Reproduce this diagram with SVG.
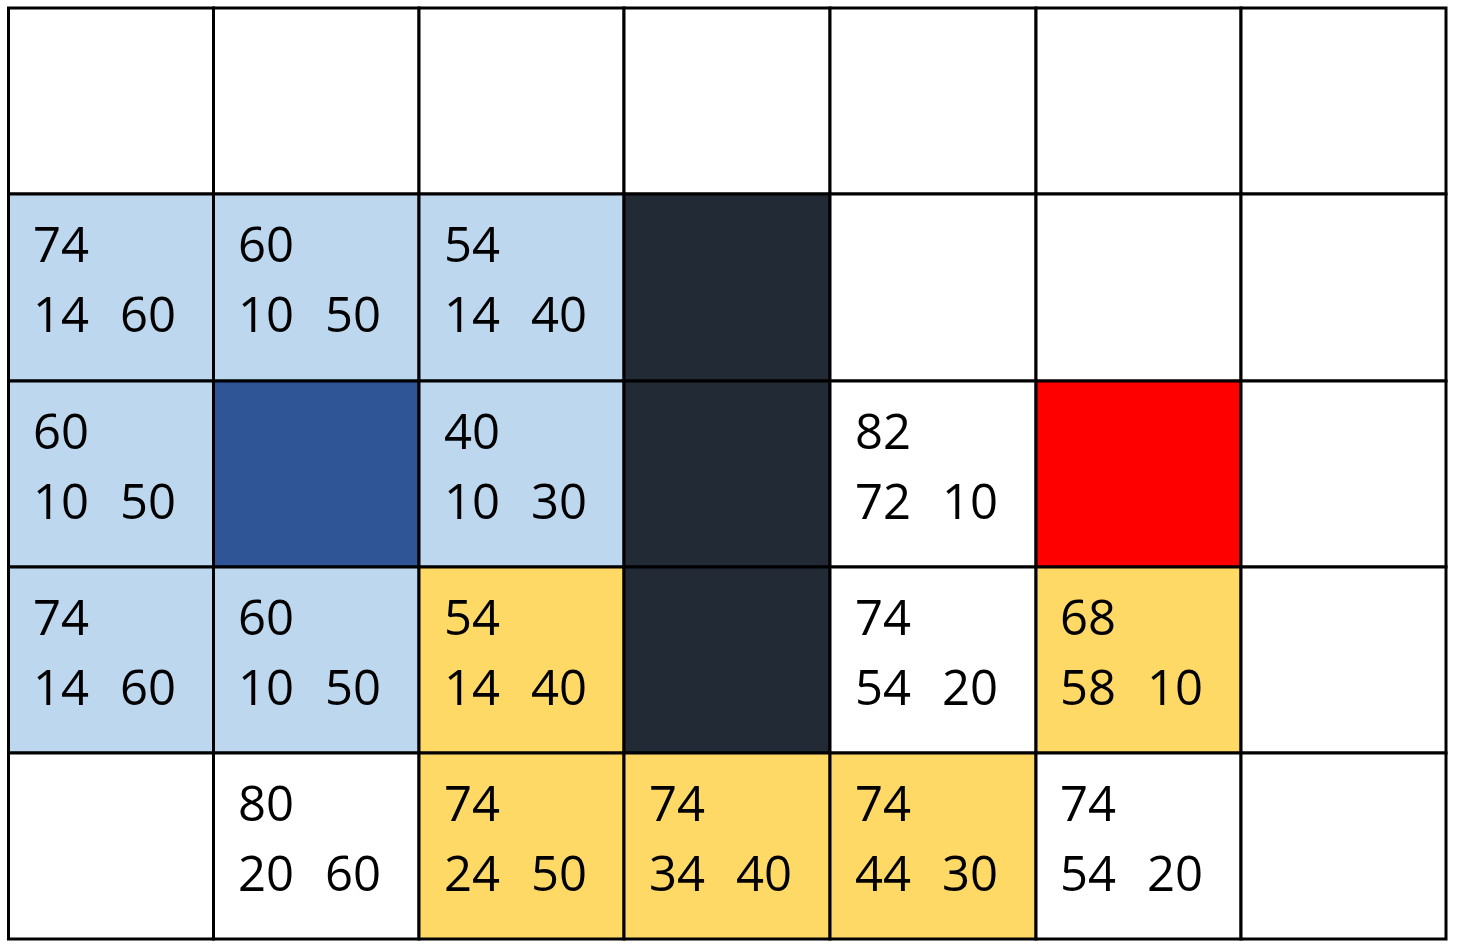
<svg xmlns="http://www.w3.org/2000/svg" width="1457" height="951" viewBox="0 0 1457 951">
<style>
.c{stroke:#000;stroke-width:3}
.w{fill:#fff}.b{fill:#BDD7EE}.d{fill:#2F5597}.k{fill:#222A35}.r{fill:#FF0000}.y{fill:#FFD966}
text{font-family:"Open Sans","Noto Sans",sans-serif;font-size:49px;fill:#000}
</style>
<rect width="1457" height="951" fill="#fff"/>
<g id="row0">
<rect class="c w" x="8.5" y="8" width="205" height="186"/>
<rect class="c w" x="213.5" y="8" width="205.5" height="186"/>
<rect class="c w" x="419" y="8" width="205" height="186"/>
<rect class="c w" x="624" y="8" width="206" height="186"/>
<rect class="c w" x="830" y="8" width="206" height="186"/>
<rect class="c w" x="1036" y="8" width="205" height="186"/>
<rect class="c w" x="1241" y="8" width="205" height="186"/>
</g>
<g id="r1c0"><rect class="c b" x="8.5" y="194" width="205" height="187"/><text x="33" y="262">74</text><text y="332"><tspan x="33">14</tspan><tspan x="120">60</tspan></text></g>
<g id="r1c1"><rect class="c b" x="213.5" y="194" width="205.5" height="187"/><text x="238" y="262">60</text><text y="332"><tspan x="238">10</tspan><tspan x="325">50</tspan></text></g>
<g id="r1c2"><rect class="c b" x="419" y="194" width="205" height="187"/><text x="444" y="262">54</text><text y="332"><tspan x="444">14</tspan><tspan x="531">40</tspan></text></g>
<g id="r1c3"><rect class="c k" x="624" y="194" width="206" height="187"/></g>
<g id="r1c4"><rect class="c w" x="830" y="194" width="206" height="187"/></g>
<g id="r1c5"><rect class="c w" x="1036" y="194" width="205" height="187"/></g>
<g id="r1c6"><rect class="c w" x="1241" y="194" width="205" height="187"/></g>

<g id="r2c0"><rect class="c b" x="8.5" y="381" width="205" height="186"/><text x="33" y="449">60</text><text y="519"><tspan x="33">10</tspan><tspan x="120">50</tspan></text></g>
<g id="r2c1"><rect class="c d" x="213.5" y="381" width="205.5" height="186"/></g>
<g id="r2c2"><rect class="c b" x="419" y="381" width="205" height="186"/><text x="444" y="449">40</text><text y="519"><tspan x="444">10</tspan><tspan x="531">30</tspan></text></g>
<g id="r2c3"><rect class="c k" x="624" y="381" width="206" height="186"/></g>
<g id="r2c4"><rect class="c w" x="830" y="381" width="206" height="186"/><text x="855" y="449">82</text><text y="519"><tspan x="855">72</tspan><tspan x="942">10</tspan></text></g>
<g id="r2c5"><rect class="c r" x="1036" y="381" width="205" height="186"/></g>
<g id="r2c6"><rect class="c w" x="1241" y="381" width="205" height="186"/></g>

<g id="r3c0"><rect class="c b" x="8.5" y="567" width="205" height="186"/><text x="33" y="635">74</text><text y="705"><tspan x="33">14</tspan><tspan x="120">60</tspan></text></g>
<g id="r3c1"><rect class="c b" x="213.5" y="567" width="205.5" height="186"/><text x="238" y="635">60</text><text y="705"><tspan x="238">10</tspan><tspan x="325">50</tspan></text></g>
<g id="r3c2"><rect class="c y" x="419" y="567" width="205" height="186"/><text x="444" y="635">54</text><text y="705"><tspan x="444">14</tspan><tspan x="531">40</tspan></text></g>
<g id="r3c3"><rect class="c k" x="624" y="567" width="206" height="186"/></g>
<g id="r3c4"><rect class="c w" x="830" y="567" width="206" height="186"/><text x="855" y="635">74</text><text y="705"><tspan x="855">54</tspan><tspan x="942">20</tspan></text></g>
<g id="r3c5"><rect class="c y" x="1036" y="567" width="205" height="186"/><text x="1060" y="635">68</text><text y="705"><tspan x="1060">58</tspan><tspan x="1147">10</tspan></text></g>
<g id="r3c6"><rect class="c w" x="1241" y="567" width="205" height="186"/></g>

<g id="r4c0"><rect class="c w" x="8.5" y="753" width="205" height="186"/></g>
<g id="r4c1"><rect class="c w" x="213.5" y="753" width="205.5" height="186"/><text x="238" y="821">80</text><text y="891"><tspan x="238">20</tspan><tspan x="325">60</tspan></text></g>
<g id="r4c2"><rect class="c y" x="419" y="753" width="205" height="186"/><text x="444" y="821">74</text><text y="891"><tspan x="444">24</tspan><tspan x="531">50</tspan></text></g>
<g id="r4c3"><rect class="c y" x="624" y="753" width="206" height="186"/><text x="649" y="821">74</text><text y="891"><tspan x="649">34</tspan><tspan x="736">40</tspan></text></g>
<g id="r4c4"><rect class="c y" x="830" y="753" width="206" height="186"/><text x="855" y="821">74</text><text y="891"><tspan x="855">44</tspan><tspan x="942">30</tspan></text></g>
<g id="r4c5"><rect class="c w" x="1036" y="753" width="205" height="186"/><text x="1060" y="821">74</text><text y="891"><tspan x="1060">54</tspan><tspan x="1147">20</tspan></text></g>
<g id="r4c6"><rect class="c w" x="1241" y="753" width="205" height="186"/></g>
<g id="connectors"/>
</svg>
